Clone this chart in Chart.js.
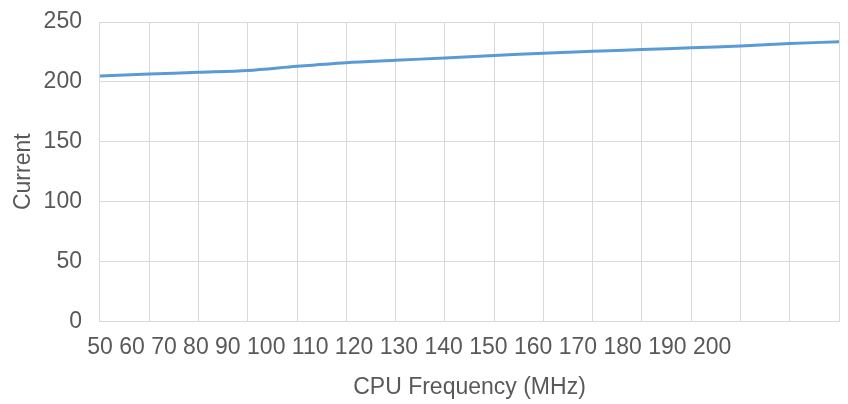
<!DOCTYPE html>
<html lang="en">
<head>
    <meta charset="UTF-8">
    <title>Current vs CPU Frequency</title>
    <script src="https://cdn.jsdelivr.net/npm/chart.js"></script>
    <style>
        html, body { margin: 0; padding: 0; background: #fff; }
        #wrap { width: 848px; height: 404px; }
    </style>
</head>
<body>
    <div id="wrap"><canvas id="chart"></canvas></div>

    <script>
        // Fréquences CPU (catégories de l'axe X)
        const frequencies = [50, 60, 70, 80, 90, 100, 110, 120, 130, 140, 150, 160, 170, 180, 190, 200];
        const current = [205, 206.5, 208, 209.5, 213, 216, 218, 220, 222, 224, 225.5, 227, 228.5, 230, 232, 233.5];
        // Graduations de l'axe Y
        const yTicks = [0, 50, 100, 150, 200, 250];

        const textColor = '#595959';
        const gridColor = '#d9d9d9';
        const fontFamily = '"Liberation Sans", Arial, sans-serif';

        // Les étiquettes X sont serrées les unes contre les autres à partir du premier trait
        const packedLabels = {
            id: 'packedLabels',
            afterDraw(chart) {
                const x = chart.scales.x;
                const ctx = chart.ctx;
                const text = frequencies.join(' ');
                ctx.save();
                ctx.font = '23px ' + fontFamily;
                ctx.fillStyle = textColor;
                ctx.textBaseline = 'middle';
                ctx.textAlign = 'left';
                const first = ctx.measureText(String(frequencies[0])).width;
                ctx.fillText(text, x.getPixelForTick(0) - first / 2, x.top + 26);
                ctx.restore();
            }
        };

        new Chart(document.getElementById('chart'), {
            type: 'line',
            data: {
                labels: frequencies,
                datasets: [{
                    label: 'Current',
                    data: current,
                    borderColor: '#5b9bd5',
                    borderWidth: 3,
                    pointRadius: 0,
                    tension: 0.3,
                    fill: false
                }]
            },
            options: {
                responsive: true,
                maintainAspectRatio: false,
                animation: false,
                layout: { padding: { left: 10, right: 9, top: 22, bottom: 3 } },
                plugins: { legend: { display: false }, tooltip: { enabled: false } },
                scales: {
                    x: {
                        grid: { color: gridColor, drawTicks: false },
                        border: { color: gridColor },
                        ticks: { display: false, autoSkip: false },
                        title: {
                            display: true,
                            text: 'CPU Frequency (MHz)',
                            color: textColor,
                            font: { family: fontFamily, size: 23 },
                            padding: { top: 52, bottom: 0 }
                        }
                    },
                    y: {
                        min: 0,
                        max: 250,
                        afterBuildTicks: axis => { axis.ticks = yTicks.map(v => ({ value: v })); },
                        afterFit: axis => { axis.paddingTop = 0; axis.paddingBottom = 0; },
                        grid: { color: gridColor, drawTicks: false },
                        border: { color: gridColor },
                        ticks: {
                            color: textColor,
                            font: { family: fontFamily, size: 23 },
                            padding: 18
                        },
                        title: {
                            display: true,
                            text: 'Current',
                            color: textColor,
                            font: { family: fontFamily, size: 23 },
                            padding: { top: 0, bottom: -12 }
                        }
                    }
                }
            },
            plugins: [packedLabels]
        });
    </script>
</body>
</html>
